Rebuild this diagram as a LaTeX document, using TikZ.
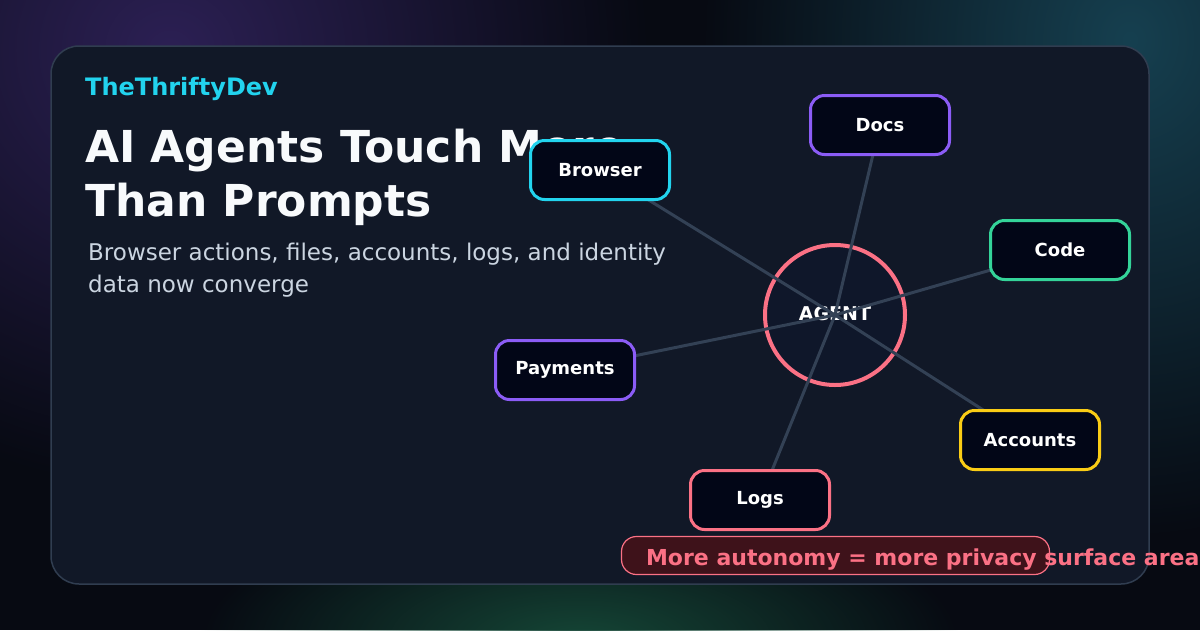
\documentclass[tikz,border=0pt]{standalone}
\usepackage{fontspec}
\setmainfont{DejaVu Sans}
\usepackage{xcolor}
\usepackage{tikz}
\usetikzlibrary{positioning,backgrounds,fadings}
\definecolor{bgbase}{RGB}{7,10,18}
\definecolor{glowpurple}{RGB}{44,32,84}
\definecolor{glowteal}{RGB}{22,64,80}
\definecolor{glowgreen}{RGB}{21,70,54}
\definecolor{cardfill}{RGB}{17,24,39}
\definecolor{cardline}{RGB}{48,61,80}
\definecolor{brandcyan}{RGB}{34,211,238}
\definecolor{titlewhite}{RGB}{248,250,252}
\definecolor{subgray}{RGB}{203,213,225}
\definecolor{boxfill}{RGB}{2,6,23}
\definecolor{agentfill}{RGB}{15,23,42}
\definecolor{linkgray}{RGB}{51,65,85}
\definecolor{edgecyan}{RGB}{34,211,238}
\definecolor{edgeviolet}{RGB}{139,92,246}
\definecolor{edgegreen}{RGB}{52,211,153}
\definecolor{edgeyellow}{RGB}{250,204,21}
\definecolor{edgepink}{RGB}{251,113,133}
\definecolor{pillfill}{RGB}{62,18,26}
\tikzfading[name=glowfade, inner color=transparent!0, outer color=transparent!100]
\tikzstyle{source} = [rectangle, rounded corners=14pt, minimum width=139pt,
    minimum height=59pt, fill=boxfill, line width=3pt, text=white,
    font=\bfseries\fontsize{18}{20}\selectfont]
\tikzstyle{hub} = [circle, minimum size=140pt, draw=edgepink, fill=agentfill,
    line width=4pt, text=white, font=\bfseries\fontsize{19}{20}\selectfont]
\tikzstyle{link} = [draw=linkgray, line width=3pt]
\tikzstyle{pill} = [rectangle, rounded corners=15pt, minimum width=428pt,
    minimum height=38pt, fill=pillfill, draw=edgepink, line width=1.2pt]
\tikzstyle{line} = [anchor=base west, inner sep=0pt]
\pgfdeclarelayer{links}
\pgfsetlayers{background,links,main}

\begin{document}
\begin{tikzpicture}[x=1pt, y=-1pt]
\useasboundingbox (0,0) rectangle (1200,630);

% ── Backdrop and card ────
\begin{scope}[on background layer]
\fill[bgbase] (0,0) rectangle (1200,630);
\fill[glowpurple, path fading=glowfade] (170,50) ellipse [x radius=480, y radius=440];
\fill[glowteal, path fading=glowfade] (1130,40) ellipse [x radius=430, y radius=500];
\fill[glowgreen, path fading=glowfade] (580,640) ellipse [x radius=380, y radius=140];
\draw[cardline, fill=cardfill, line width=1.5pt, rounded corners=28pt] (51,46) rectangle (1149,584);
\node[hub] (agent) at (835,315) {\raisebox{3pt}{AGENT}};
\end{scope}

% ── Heading ────
\node[line, font=\bfseries\fontsize{24}{28}\selectfont, text=brandcyan] (brand) at (85,95) {TheThriftyDev};
\node[line, font=\bfseries\fontsize{44}{52}\selectfont, text=titlewhite] (title1) at (85,162) {AI Agents Touch More};
\node[line, font=\bfseries\fontsize{44}{52}\selectfont, text=titlewhite] (title2) at (85,216) {Than Prompts};
\node[line, font=\fontsize{23}{28}\selectfont, text=subgray] (sub1) at (88,260) {Browser actions, files, accounts, logs, and identity};
\node[line, font=\fontsize{23}{28}\selectfont, text=subgray] (sub2) at (88,292) {data now converge};

% ── Surfaces ────
\node[source, draw=edgecyan] (browser) at (600,170) {Browser};
\node[source, draw=edgeviolet] (docs) at (880,125) {Docs};
\node[source, draw=edgegreen] (code) at (1060,250) {Code};
\node[source, draw=edgeviolet] (payments) at (565,370) {Payments};
\node[source, draw=edgeyellow] (accounts) at (1030,440) {Accounts};
\node[source, draw=edgepink] (logs) at (760,500) {Logs};

% ── Links ────
\begin{pgfonlayer}{links}
\foreach \s in {browser,docs,code,payments,accounts,logs}
  \draw[link] (agent.center) -- (\s.center);
\end{pgfonlayer}

% ── Takeaway ────
\node[pill] (note) at (835.5,555.5) {};
\node[line, font=\bfseries\fontsize{22}{26}\selectfont, text=edgepink] (notetext) at ([xshift=25pt, yshift=-9.5pt]note.west) {More autonomy = more privacy surface area};

\end{tikzpicture}
\end{document}
